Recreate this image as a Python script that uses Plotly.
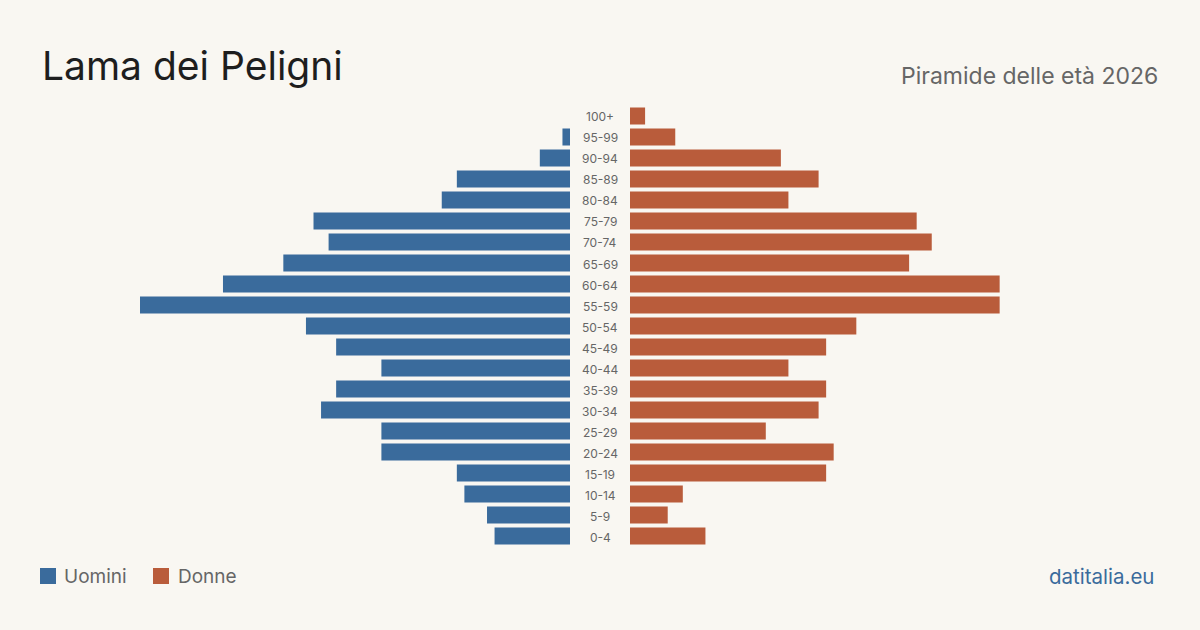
import plotly.graph_objects as go

age_groups = ["0-4", "5-9", "10-14", "15-19", "20-24", "25-29", "30-34", "35-39",
              "40-44", "45-49", "50-54", "55-59", "60-64", "65-69", "70-74", "75-79",
              "80-84", "85-89", "90-94", "95-99", "100+"]
men = [10, 11, 14, 15, 25, 25, 33, 31, 25, 31, 35, 57, 46, 38, 32, 34, 17, 15, 4, 1, 0]
women = [10, 5, 7, 26, 27, 18, 25, 26, 21, 26, 30, 49, 49, 37, 40, 38, 21, 25, 20, 6, 2]
series_names = ["Uomini", "Donne"]

BLUE = "#3a6b9c"
ORANGE = "#b95c3b"
BG = "#f9f7f2"
FONT = "Inter"

W, H = 1200, 630
xmax = max(max(men), max(women))

fig = go.Figure()
fig.add_trace(go.Bar(y=age_groups, x=men, orientation="h", name=series_names[0],
                     marker=dict(color=BLUE, line=dict(width=0)),
                     xaxis="x", yaxis="y", hoverinfo="x+y"))
fig.add_trace(go.Bar(y=age_groups, x=women, orientation="h", name=series_names[1],
                     marker=dict(color=ORANGE, line=dict(width=0)),
                     xaxis="x2", yaxis="y2", hoverinfo="x+y"))

ytop = 105.5
ybot = 546.5
ydom = [(H - ybot) / H, (H - ytop) / H]

axis_common = dict(showgrid=False, zeroline=False, showticklabels=False,
                   showline=False, ticks="", fixedrange=True)
fig.update_layout(
    width=W, height=H,
    paper_bgcolor=BG, plot_bgcolor=BG,
    margin=dict(l=0, r=0, t=0, b=0),
    bargap=0.19,
    font=dict(family=FONT, color="#666666"),
    xaxis=dict(domain=[140 / W, 570 / W], range=[xmax, 0], **axis_common),
    xaxis2=dict(domain=[630 / W, 1060 / W], range=[0, xmax], anchor="y2", **axis_common),
    yaxis=dict(domain=ydom, categoryorder="array", categoryarray=age_groups,
               anchor="x", **axis_common),
    yaxis2=dict(domain=ydom, categoryorder="array", categoryarray=age_groups,
                anchor="x2", **axis_common),
    showlegend=False,
)

# centre age labels
for ag in age_groups:
    fig.add_annotation(x=0.5, xref="paper", y=ag, yref="y", text=ag, showarrow=False,
                       font=dict(size=12, color="#666666", family=FONT),
                       xanchor="center", yanchor="middle", yshift=-1)

# legend (manual, to match square size)
leg = [(40, BLUE, series_names[0], 62), (153, ORANGE, series_names[1], 176)]
for x0, col, name, tx in leg:
    fig.add_shape(type="rect", xref="paper", yref="paper",
                  x0=x0 / W, x1=(x0 + 16) / W, y0=(H - 584) / H, y1=(H - 568) / H,
                  fillcolor=col, line=dict(width=0))
    fig.add_annotation(x=tx / W, y=(H - 576) / H, xref="paper", yref="paper",
                       text=name, showarrow=False, xanchor="left", yanchor="middle",
                       font=dict(size=19, color="#666666", family=FONT))

fig.add_annotation(x=40 / W, y=(H - 66) / H, xref="paper", yref="paper",
                   text="Lama dei Peligni", showarrow=False, xanchor="left", yanchor="middle",
                   font=dict(size=39, color="#1e1e1e", family=FONT))
fig.add_annotation(x=1160 / W, y=(H - 76) / H, xref="paper", yref="paper",
                   text="Piramide delle età 2026", showarrow=False, xanchor="right",
                   yanchor="middle", font=dict(size=23, color="#666666", family=FONT))
fig.add_annotation(x=1156 / W, y=(H - 576) / H, xref="paper", yref="paper",
                   text="datitalia.eu", showarrow=False, xanchor="right", yanchor="middle",
                   font=dict(size=20.5, color="#3a6b9c", family=FONT))

fig.write_html("out.html", config={"displayModeBar": False})
